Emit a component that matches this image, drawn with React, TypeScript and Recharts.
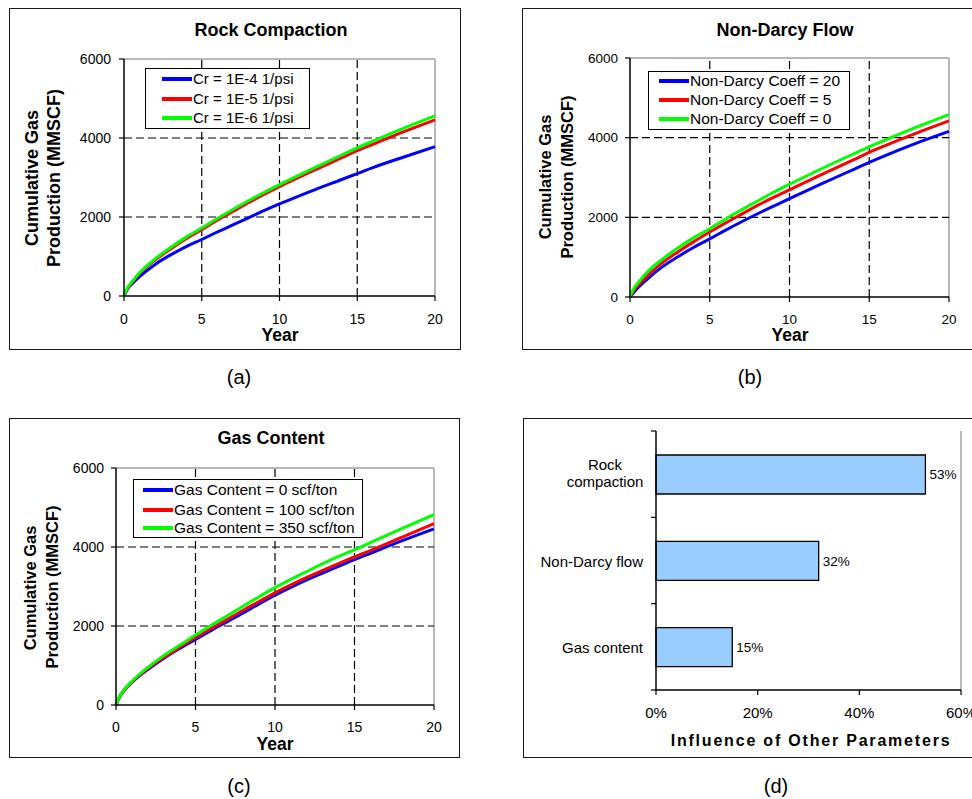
import React from 'react';
import { LineChart, Line, XAxis, YAxis, BarChart, Bar, LabelList, ReferenceLine, Legend } from 'recharts';

const FONT = '"Liberation Sans", Arial, Helvetica, sans-serif';

// ---------- shared axes ----------
const years = [0, 0.25, 0.5, 1, 2, 3, 4, 5, 6, 7, 8, 9, 10, 12, 14, 15, 16, 18, 20];
const yearTicks = [0, 5, 10, 15, 20];
const gasTicks = [0, 2000, 4000, 6000];
const gridYears = [5, 10, 15];
const gridGas = [2000, 4000];
const seriesColors = ['#0000FF', '#FF0000', '#00FF00'];

// ---------- (a) Rock Compaction ----------
const rockNames = ['Cr = 1E-4 1/psi', 'Cr = 1E-5 1/psi', 'Cr = 1E-6 1/psi'];
const rockCr4 = [0, 190, 300, 490, 800, 1040, 1250, 1430, 1620, 1800, 1980, 2160, 2330, 2650, 2950, 3100, 3250, 3520, 3780];
const rockCr5 = [0, 210, 340, 570, 910, 1190, 1450, 1680, 1920, 2140, 2360, 2570, 2770, 3140, 3500, 3680, 3840, 4160, 4460];
const rockCr6 = [0, 220, 350, 590, 940, 1230, 1490, 1720, 1960, 2190, 2410, 2620, 2820, 3200, 3570, 3750, 3920, 4250, 4560];

// ---------- (b) Non-Darcy Flow ----------
const darcyNames = ['Non-Darcy Coeff = 20', 'Non-Darcy Coeff = 5', 'Non-Darcy Coeff = 0'];
const darcy20 = [0, 120, 230, 420, 750, 1010, 1250, 1460, 1680, 1890, 2090, 2280, 2470, 2840, 3200, 3380, 3550, 3870, 4160];
const darcy5 = [0, 170, 290, 500, 850, 1130, 1390, 1630, 1860, 2080, 2300, 2500, 2690, 3070, 3440, 3630, 3800, 4120, 4420];
const darcy0 = [0, 220, 350, 590, 940, 1230, 1490, 1715, 1960, 2190, 2410, 2630, 2830, 3220, 3590, 3770, 3940, 4270, 4580];

// ---------- (c) Gas Content ----------
const gasNames = ['Gas Content = 0 scf/ton', 'Gas Content = 100 scf/ton', 'Gas Content = 350 scf/ton'];
const gas0 = [0, 230, 360, 570, 900, 1180, 1430, 1660, 1890, 2110, 2330, 2560, 2780, 3170, 3510, 3680, 3840, 4160, 4460];
const gas100 = [0, 230, 370, 580, 920, 1200, 1460, 1710, 1940, 2170, 2400, 2620, 2840, 3230, 3580, 3750, 3910, 4250, 4590];
const gas350 = [0, 240, 380, 600, 950, 1250, 1510, 1770, 2020, 2260, 2500, 2740, 2970, 3380, 3760, 3930, 4110, 4470, 4820];

// ---------- (d) Influence ----------
const influenceCategories = ['Rock compaction', 'Non-Darcy flow', 'Gas content'];
const influenceLabelLines = [['Rock', 'compaction'], ['Non-Darcy flow'], ['Gas content']];
const influenceValues = [53, 32, 15];
const influenceTicks = [0, 20, 40, 60];

type LegendBox = { x: number; y: number; w: number; h: number; lineL: number; rows: number[]; fs: number };
type PanelCfg = {
  left: number; top: number; width: number; height: number;
  margin: { top: number; right: number; bottom: number; left: number };
  names: string[]; series: number[][];
  tickFont: number; xTickMargin: number; yTickMargin: number;
  legend: LegendBox;
};

const makeLegend = (lb: LegendBox, names: string[]) => (props: any) => {
  const payload = [...(props.payload || [])].sort(
    (a: any, b: any) => names.indexOf(String(a.value)) - names.indexOf(String(b.value))
  );
  return (
    <div style={{ width: lb.w, height: lb.h, border: '1.5px solid #000', background: '#fff', boxSizing: 'border-box', position: 'relative', fontFamily: FONT, fontSize: lb.fs, color: '#000' }}>
      {payload.map((p: any, i: number) => (
        <div key={i} style={{ position: 'absolute', left: 0, top: lb.rows[i] - 10, height: 20, display: 'flex', alignItems: 'center', whiteSpace: 'nowrap' }}>
          <div style={{ marginLeft: lb.lineL, width: 30, height: 3.5, background: p.color }} />
          <span style={{ marginLeft: 1, lineHeight: '20px' }}>{p.value}</span>
        </div>
      ))}
    </div>
  );
};

function CurvePanel({ cfg }: { cfg: PanelCfg }) {
  const rows = years.map((yr, i) => {
    const r: any = { year: yr };
    cfg.series.forEach((s, k) => { r['s' + k] = s[i]; });
    return r;
  });
  const tickStyle = { fill: '#000', fontSize: cfg.tickFont, fontFamily: FONT };
  return (
    <div style={{ position: 'absolute', left: cfg.left, top: cfg.top, fontFamily: FONT }}>
      <LineChart width={cfg.width} height={cfg.height} data={rows} margin={cfg.margin}>
        <XAxis dataKey="year" type="number" domain={[0, 20]} ticks={yearTicks} interval={0} height={40}
          tickSize={5} tickMargin={cfg.xTickMargin} axisLine={{ stroke: '#000', strokeWidth: 1.5 }}
          tickLine={{ stroke: '#000', strokeWidth: 1.2 }} tick={tickStyle} />
        <YAxis type="number" domain={[0, 6000]} ticks={gasTicks} interval={0} width={60}
          tickSize={5} tickMargin={cfg.yTickMargin} axisLine={{ stroke: '#000', strokeWidth: 1.5 }}
          tickLine={{ stroke: '#000', strokeWidth: 1.2 }} tick={tickStyle} />
        <ReferenceLine x={20} stroke="#a0a0a0" strokeWidth={1.5} />
        <ReferenceLine y={6000} stroke="#a0a0a0" strokeWidth={1.5} />
        {gridYears.map((v) => (
          <ReferenceLine key={'gx' + v} x={v} stroke="#000" strokeWidth={1.2} strokeDasharray="8 4" />
        ))}
        {gridGas.map((v) => (
          <ReferenceLine key={'gy' + v} y={v} stroke="#000" strokeWidth={1.2} strokeDasharray="8 4" />
        ))}
        {cfg.names.map((n, k) => (
          <Line key={n} type="monotone" dataKey={'s' + k} name={n} stroke={seriesColors[k]} strokeWidth={3}
            dot={false} activeDot={false} isAnimationActive={false} />
        ))}
        <Legend layout="vertical" align="center" verticalAlign="middle"
          wrapperStyle={{ left: cfg.legend.x, top: cfg.legend.y, width: cfg.legend.w, height: cfg.legend.h }}
          content={makeLegend(cfg.legend, cfg.names)} />
      </LineChart>
    </div>
  );
}

const panelA: PanelCfg = {
  left: 9, top: 8, width: 452, height: 342,
  margin: { top: 51, right: 26, bottom: 14, left: 55 },
  names: rockNames, series: [rockCr4, rockCr5, rockCr6],
  tickFont: 14, xTickMargin: 13, yTickMargin: 8,
  legend: { x: 136, y: 60, w: 165, h: 61, lineL: 16, rows: [10, 30, 49], fs: 15 },
};
const panelB: PanelCfg = {
  left: 522, top: 8, width: 450, height: 342,
  margin: { top: 50, right: 23, bottom: 13, left: 48 },
  names: darcyNames, series: [darcy20, darcy5, darcy0],
  tickFont: 13.5, xTickMargin: 12, yTickMargin: 7,
  legend: { x: 126, y: 63, w: 202, h: 59, lineL: 10, rows: [9, 28, 47], fs: 15.5 },
};
const panelC: PanelCfg = {
  left: 9, top: 418, width: 451, height: 340,
  margin: { top: 50, right: 26, bottom: 13, left: 47 },
  names: gasNames, series: [gas0, gas100, gas350],
  tickFont: 14, xTickMargin: 12, yTickMargin: 7,
  legend: { x: 124, y: 61, w: 230, h: 59, lineL: 9, rows: [10, 30, 48], fs: 15.5 },
};

// bar chart geometry
const BAR_W = 449;
const BAR_H = 340;
const BAR_MARGIN = { top: 13, right: 11, bottom: 28, left: 8 };
const BAR_XAXIS_H = 40;
const BAR_PLOT_H = BAR_H - BAR_MARGIN.top - BAR_MARGIN.bottom - BAR_XAXIS_H;

const CategoryTick = (props: any) => {
  const { x, y, index } = props;
  const lines = influenceLabelLines[index] || [String(props.payload?.value ?? '')];
  const axisX = x + 13;
  const band = BAR_PLOT_H / influenceCategories.length;
  const last = index === influenceCategories.length - 1;
  return (
    <g>
      <line x1={axisX - 5} x2={axisX} y1={y - band / 2} y2={y - band / 2} stroke="#000" strokeWidth={1.2} />
      {last && <line x1={axisX - 5} x2={axisX} y1={y + band / 2} y2={y + band / 2} stroke="#000" strokeWidth={1.2} />}
      {lines.length === 1 ? (
        <text x={x} y={y + 6} textAnchor="end" fill="#000" fontSize={15} fontFamily={FONT}>{lines[0]}</text>
      ) : (
        <text textAnchor="middle" fill="#000" fontSize={15} fontFamily={FONT}>
          <tspan x={x - 38} y={y - 4}>{lines[0]}</tspan>
          <tspan x={x - 38} y={y + 13}>{lines[1]}</tspan>
        </text>
      )}
    </g>
  );
};

function InfluencePanel() {
  const rows = influenceCategories.map((name, i) => ({ name, value: influenceValues[i] }));
  return (
    <div style={{ position: 'absolute', left: 523, top: 418, fontFamily: FONT }}>
      <BarChart layout="vertical" width={BAR_W} height={BAR_H} data={rows} margin={BAR_MARGIN} barSize={39}>
        <XAxis type="number" domain={[0, 60]} ticks={influenceTicks} interval={0} height={BAR_XAXIS_H}
          tickFormatter={(v: number) => `${v}%`} tickSize={5} tickMargin={12}
          axisLine={{ stroke: '#000', strokeWidth: 1.5 }} tickLine={{ stroke: '#000', strokeWidth: 1.2 }}
          tick={{ fill: '#000', fontSize: 15, fontFamily: FONT }} />
        <YAxis type="category" dataKey="name" width={125} interval={0} tickLine={false} tickSize={5} tickMargin={8}
          axisLine={{ stroke: '#000', strokeWidth: 1.5 }} tick={<CategoryTick />} />
        <ReferenceLine x={60} stroke="#a0a0a0" strokeWidth={1.5} />
        <Bar dataKey="value" fill="#99CCFF" stroke="#000" strokeWidth={1.3} isAnimationActive={false}>
          <LabelList dataKey="value" position="right" offset={4} formatter={(v: any) => `${v}%`}
            fill="#000" fontSize={13.5} fontFamily={FONT} />
        </Bar>
      </BarChart>
    </div>
  );
}

const Txt = ({ x, y, size, bold, spacing, children }: any) => (
  <div style={{ position: 'absolute', left: x, top: y, transform: 'translate(-50%,-50%)', fontSize: size, lineHeight: `${size}px`, fontWeight: bold ? 'bold' : 'normal', letterSpacing: spacing || 0, whiteSpace: 'nowrap' }}>{children}</div>
);
const RotTxt = ({ x, y, size, children }: any) => (
  <div style={{ position: 'absolute', left: x, top: y, transform: 'translate(-50%,-50%) rotate(-90deg)', fontSize: size, lineHeight: `${size}px`, fontWeight: 'bold', whiteSpace: 'nowrap' }}>{children}</div>
);
const Frame = ({ x, y, w, h }: any) => (
  <div style={{ position: 'absolute', left: x, top: y, width: w, height: h, border: '1.5px solid #1a1a1a', boxSizing: 'border-box' }} />
);

export default function App() {
  return (
    <div style={{ position: 'absolute', left: 0, top: 0, width: 972, height: 799, overflow: 'hidden', background: '#fff', fontFamily: FONT, color: '#000' }}>
      <Frame x={9} y={8} w={452} h={342} />
      <Frame x={522} y={8} w={460} h={342} />
      <Frame x={9} y={418} w={451} h={340} />
      <Frame x={523} y={418} w={460} h={340} />

      <CurvePanel cfg={panelA} />
      <CurvePanel cfg={panelB} />
      <CurvePanel cfg={panelC} />
      <InfluencePanel />

      <Txt x={271} y={30} size={18} bold>Rock Compaction</Txt>
      <Txt x={785} y={30} size={18} bold>Non-Darcy Flow</Txt>
      <Txt x={271} y={438} size={18} bold>Gas Content</Txt>

      <RotTxt x={32} y={178} size={18}>Cumulative Gas</RotTxt>
      <RotTxt x={54} y={178} size={18}>Production (MMSCF)</RotTxt>
      <RotTxt x={545} y={177} size={16.5}>Cumulative Gas</RotTxt>
      <RotTxt x={567} y={177} size={16.5}>Production (MMSCF)</RotTxt>
      <RotTxt x={30} y={588} size={16.5}>Cumulative Gas</RotTxt>
      <RotTxt x={52} y={587} size={16.5}>Production (MMSCF)</RotTxt>

      <Txt x={280} y={336} size={17.5} bold>Year</Txt>
      <Txt x={790} y={336} size={17.5} bold>Year</Txt>
      <Txt x={275} y={745} size={17.5} bold>Year</Txt>
      <Txt x={811} y={741} size={16} bold spacing={1.8}>Influence of Other Parameters</Txt>

      <Txt x={239} y={377} size={20}>(a)</Txt>
      <Txt x={750} y={377} size={20}>(b)</Txt>
      <Txt x={239} y={786} size={20}>(c)</Txt>
      <Txt x={776} y={786} size={20}>(d)</Txt>
    </div>
  );
}
